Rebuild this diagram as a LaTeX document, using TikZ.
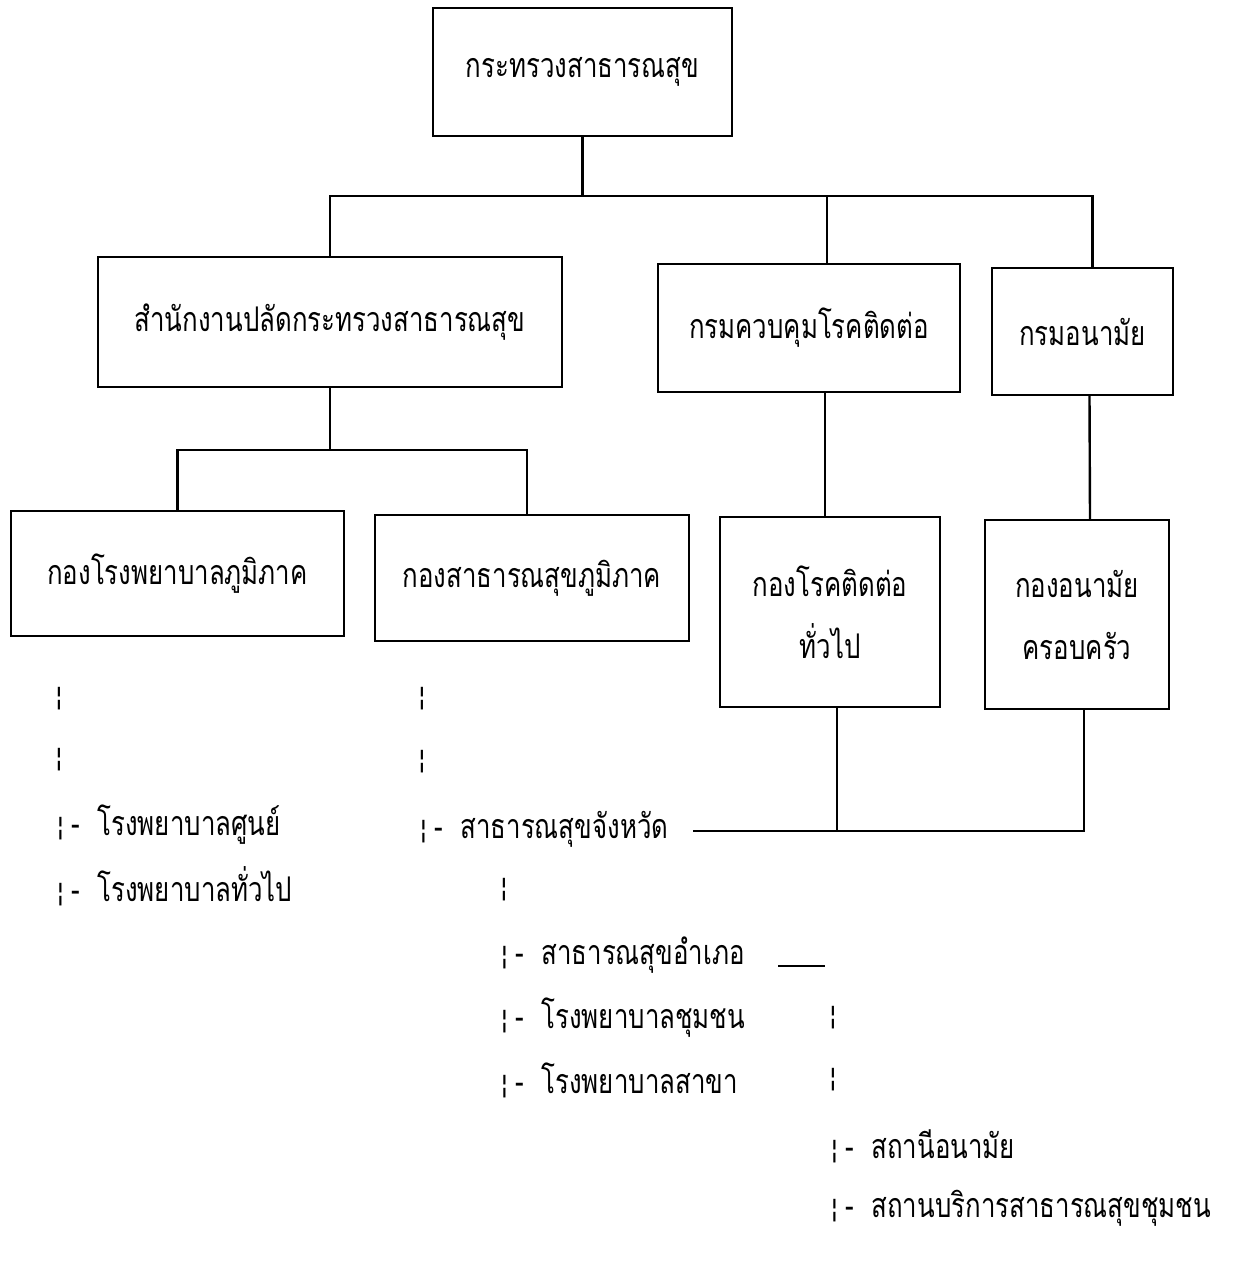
\documentclass[tikz,border=0pt]{standalone}
\usepackage{fontspec}
\newfontfamily\thai[Script=Thai,FakeStretch=0.76]{Loma}
\newfontfamily\symf{DejaVu Sans}
\newcommand\bbar{{\symf\fontsize{26}{26}\selectfont ¦}}
\newcommand\lit[1]{\bbar\kern7pt-\kern17pt #1}
\begin{document}
\begin{tikzpicture}[x=1pt,y=-1pt,line width=2.4pt,
  box/.style={draw,inner sep=0pt,align=center,font=\thai\fontsize{34}{62}\selectfont},
  lbl/.style={anchor=west,inner sep=0pt,font=\thai\fontsize{34}{62}\selectfont},
  bar/.style={inner sep=0pt}]
\useasboundingbox[fill=white] (0,0) rectangle (1238,1264);
% boxes
\node[box,minimum width=299pt,minimum height=128pt] (top) at (582.5,72) {กระทรวงสาธารณสุข};
\node[box,minimum width=464pt,minimum height=130pt] (b2) at (330,322) {สำนักงานปลัดกระทรวงสาธารณสุข};
\node[box,minimum width=302pt,minimum height=128pt] (b3) at (809,328) {กรมควบคุมโรคติดต่อ};
\node[box,minimum width=181pt,minimum height=127pt] (b4) at (1082.5,331.5) {กรมอนามัย};
\node[box,minimum width=333pt,minimum height=125pt] (b5) at (177.5,573.5) {กองโรงพยาบาลภูมิภาค};
\node[box,minimum width=314pt,minimum height=126pt] (b6) at (532,578) {กองสาธารณสุขภูมิภาค};
\node[box,minimum width=220pt,minimum height=190pt] (b7) at (830,612) {กองโรคติดต่อ\\ทั่วไป};
\node[box,minimum width=184pt,minimum height=189pt] (b8) at (1077,614.5) {กองอนามัย\\ครอบครัว};
% bus lines
\coordinate (bus1) at (580,196);
\coordinate (bus2) at (329,450);
\draw (top.south) -- (top.south |- bus1);
\draw (b2.north) |- ([xshift=18pt]b3.north |- bus1) -- ([xshift=18pt]b3.north);
\draw ([xshift=18pt]b3.north |- bus1) -| ([xshift=10pt]b4.north);
\draw (b2.south) -- (b2.south |- bus2);
\draw (b5.north) |- (bus2) -| ([xshift=-5pt]b6.north);
\draw ([xshift=16pt]b3.south) -- ([xshift=-5pt]b7.north);
\draw ([xshift=7pt]b4.south) -- ([xshift=13pt]b8.north);
% lists
\node[bar] (l1) at (59,699) {\bbar};
\node[bar] (l2) at (59,760) {\bbar};
\node[lbl] (rs) at (55,825) {\lit{โรงพยาบาลศูนย์}};
\node[lbl] (rt) at (55,886) {\lit{โรงพยาบาลทั่วไป}};
\node[bar] (m1) at (422,699) {\bbar};
\node[bar] (m2) at (422,762) {\bbar};
\node[lbl] (prov) at (418,829) {\lit{สาธารณสุขจังหวัด}};
\node[bar] (m3) at (504,890) {\bbar};
\node[lbl] (amp) at (499,955) {\lit{สาธารณสุขอำเภอ}};
\node[lbl] (comm) at (499,1018) {\lit{โรงพยาบาลชุมชน}};
\node[lbl] (branch) at (499,1080) {\lit{โรงพยาบาลสาขา}};
\node[bar] (r1) at (833,1018) {\bbar};
\node[bar] (r2) at (833,1080) {\bbar};
\node[lbl] (hs) at (829,1146) {\lit{สถานีอนามัย}};
\node[lbl] (hc) at (829,1208) {\lit{สถานบริการสาธารณสุขชุมชน}};
% connectors to provincial health
\coordinate (pl) at (693,831);
\draw (pl) -- ([xshift=7pt]b8.south |- pl) -- ([xshift=7pt]b8.south);
\draw ([xshift=7pt]b7.south) -- ([xshift=7pt]b7.south |- pl);
\coordinate (u1) at (778,966);
\coordinate (u2) at (825,966);
\draw[line width=2pt] (u1) -- (u2);
\end{tikzpicture}
\end{document}
